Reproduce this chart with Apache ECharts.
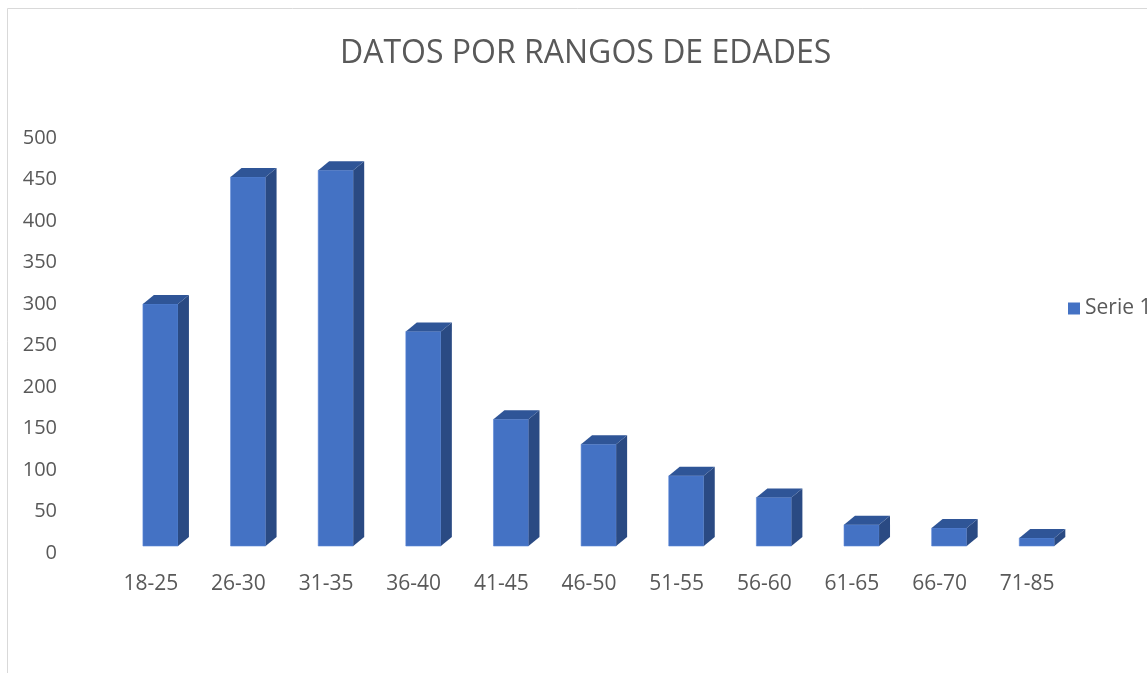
<!DOCTYPE html>
<html>
<head>
<meta charset="utf-8">
<title>Datos por rangos de edades</title>
<script src="https://cdn.jsdelivr.net/npm/echarts@6/dist/echarts.min.js"></script>
<style>
  html, body { margin: 0; padding: 0; background: #ffffff; }
  #chart { width: 1147px; height: 673px; }
</style>
</head>
<body>
<div id="chart"></div>
<script>
// datos
var categorias = ["18-25", "26-30", "31-35", "36-40", "41-45", "46-50", "51-55", "56-60", "61-65", "66-70", "71-85"];
var serie1 = [300, 453, 461, 267, 161, 131, 93, 67, 34, 30, 18];
var ticksY = [0, 50, 100, 150, 200, 250, 300, 350, 400, 450, 500];

var colorFrente = '#4472c4';
var colorArriba = '#2f5597';
var colorLado = '#2a4a83';
var colorTexto = '#595959';

//dibuja una columna con efecto 3D
function renderColumna(params, api) {
    var top = api.coord([api.value(0), api.value(1)]);
    var base = api.coord([api.value(0), 0]);
    var banda = api.size([1, 0])[0];
    var x0 = top[0] - banda * 0.09;
    var ancho = banda * 0.4;
    var x1 = x0 + ancho;
    var dx = banda * 0.125;
    var dy = 9;
    var yBase = base[1] - 7;
    var yTop = top[1];
    return {
        type: 'group',
        children: [
            {
                type: 'rect',
                shape: {x: x0, y: yTop, width: ancho, height: yBase - yTop},
                style: {fill: colorFrente, stroke: '#5a86d6', lineWidth: 0.6}
            },
            {
                type: 'polygon',
                shape: {points: [[x1, yTop], [x1 + dx, yTop - dy], [x1 + dx, yBase - dy], [x1, yBase]]},
                style: {fill: colorLado}
            },
            {
                type: 'polygon',
                shape: {points: [[x0, yTop], [x1, yTop], [x1 + dx, yTop - dy], [x0 + dx, yTop - dy]]},
                style: {fill: colorArriba}
            }
        ]
    };
}

var datos = [];
for (var i = 0; i < categorias.length; i++) {
    datos.push([i, serie1[i]]);
}

var myChart = echarts.init(document.getElementById('chart'));
var option = {
    backgroundColor: '#ffffff',
    animation: false,
    textStyle: {fontFamily: 'Open Sans'},
    graphic: [
        {
            type: 'rect',
            shape: {x: 7.5, y: 8.5, width: 1200, height: 700},
            style: {fill: 'none', stroke: '#d9d9d9', lineWidth: 1},
            silent: true
        }
    ],
    title: {
        text: 'DATOS POR RANGOS DE EDADES',
        left: 335,
        top: 33,
        textStyle: {fontSize: 32, fontWeight: 'normal', color: colorTexto, fontFamily: 'Open Sans'}
    },
    legend: {
        left: 1063,
        top: 293,
        icon: 'rect',
        itemWidth: 12,
        itemHeight: 12,
        itemGap: 6,
        textStyle: {fontSize: 21, color: colorTexto, fontFamily: 'Open Sans'},
        data: ['Serie 1']
    },
    grid: {
        left: 107,
        right: 76,
        top: 138,
        bottom: 120
    },
    xAxis: {
        type: 'category',
        data: categorias,
        boundaryGap: true,
        axisLine: {show: false},
        axisTick: {show: false},
        axisLabel: {fontSize: 21, color: colorTexto, margin: 21, fontFamily: 'Open Sans'}
    },
    yAxis: {
        type: 'value',
        min: ticksY[0],
        max: ticksY[ticksY.length - 1],
        interval: ticksY[1] - ticksY[0],
        splitLine: {show: false},
        axisLine: {show: false},
        axisTick: {show: false},
        axisLabel: {fontSize: 20, color: colorTexto, margin: 50, fontFamily: 'Open Sans'}
    },
    series: [
        {
            name: 'Serie 1',
            type: 'custom',
            renderItem: renderColumna,
            itemStyle: {color: colorFrente},
            encode: {x: 0, y: 1},
            data: datos
        }
    ]
};
myChart.setOption(option);
</script>
</body>
</html>
